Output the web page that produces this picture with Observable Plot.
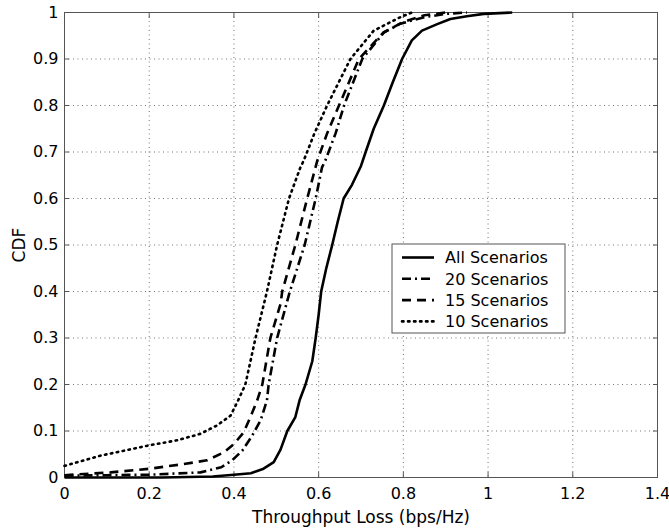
<!DOCTYPE html>
<html>
<head>
<meta charset="utf-8">
<script src="https://cdn.jsdelivr.net/npm/d3@7"></script>
<script src="https://cdn.jsdelivr.net/npm/@observablehq/plot@0.6"></script>
<style>
  html, body { margin: 0; padding: 0; background: #fff; }
  #chart svg { display: block; }
  #chart svg text { font-family: 'DejaVu Sans', sans-serif; }
  #chart g[aria-label="x-axis tick label"] text,
  #chart g[aria-label="y-axis tick label"] text { font-size: 16px; }
  #chart g[aria-label="x-axis label"] text,
  #chart g[aria-label="y-axis label"] text { font-size: 17px; }
</style>
</head>
<body>
<div id="chart"></div>
<script>
// ---- data ----
const seriesNames = ["All Scenarios", "20 Scenarios", "15 Scenarios", "10 Scenarios"];
const xTicks = [0, 0.2, 0.4, 0.6, 0.8, 1, 1.2, 1.4];
const yTicks = [0, 0.1, 0.2, 0.3, 0.4, 0.5, 0.6, 0.7, 0.8, 0.9, 1];

const allLoss = [0, 0.23, 0.35, 0.40, 0.44, 0.47, 0.494, 0.51, 0.526, 0.545, 0.555, 0.569, 0.585, 0.593, 0.600, 0.606, 0.618, 0.632, 0.645, 0.659, 0.679, 0.70, 0.711, 0.73, 0.754, 0.775, 0.797, 0.82, 0.844, 0.88, 0.911, 0.95, 0.99, 1.057];
const allCdf  = [0, 0, 0.002, 0.006, 0.009, 0.019, 0.033, 0.06, 0.10, 0.13, 0.166, 0.20, 0.25, 0.30, 0.35, 0.40, 0.45, 0.50, 0.55, 0.60, 0.63, 0.67, 0.70, 0.75, 0.80, 0.85, 0.90, 0.94, 0.961, 0.975, 0.986, 0.992, 0.997, 1];

const s20Loss = [0, 0.1, 0.2, 0.321, 0.37, 0.396, 0.42, 0.443, 0.463, 0.478, 0.482, 0.502, 0.532, 0.567, 0.593, 0.608, 0.616, 0.64, 0.66, 0.703, 0.754, 0.793, 0.85, 0.9, 0.95];
const s20Cdf  = [0.004, 0.005, 0.006, 0.011, 0.022, 0.037, 0.058, 0.09, 0.123, 0.166, 0.20, 0.30, 0.40, 0.50, 0.60, 0.667, 0.682, 0.74, 0.80, 0.90, 0.957, 0.976, 0.99, 0.997, 1];

const s15Loss = [0, 0.109, 0.203, 0.282, 0.337, 0.376, 0.40, 0.423, 0.439, 0.455, 0.467, 0.486, 0.51, 0.514, 0.545, 0.573, 0.597, 0.62, 0.648, 0.695, 0.753, 0.80, 0.85, 0.9];
const s15Cdf  = [0.005, 0.011, 0.019, 0.029, 0.037, 0.054, 0.072, 0.097, 0.13, 0.166, 0.20, 0.30, 0.373, 0.40, 0.50, 0.60, 0.682, 0.74, 0.80, 0.90, 0.957, 0.98, 0.994, 1];

const s10Loss = [0, 0.085, 0.199, 0.266, 0.321, 0.36, 0.392, 0.41, 0.427, 0.451, 0.478, 0.502, 0.53, 0.557, 0.565, 0.59, 0.62, 0.675, 0.73, 0.793, 0.82];
const s10Cdf  = [0.025, 0.047, 0.069, 0.08, 0.094, 0.112, 0.133, 0.166, 0.20, 0.30, 0.40, 0.50, 0.60, 0.667, 0.682, 0.74, 0.80, 0.90, 0.961, 0.99, 1];

const rows = (name, xs, ys) => xs.map((x, i) => ({series: name, loss: x, cdf: ys[i]}));
const data = [
  ...rows(seriesNames[0], allLoss, allCdf),
  ...rows(seriesNames[1], s20Loss, s20Cdf),
  ...rows(seriesNames[2], s15Loss, s15Cdf),
  ...rows(seriesNames[3], s10Loss, s10Cdf)
];

// ---- styles ----
const dashes = {
  "All Scenarios": null,
  "20 Scenarios": "9,4,2,4",
  "15 Scenarios": "9,6",
  "10 Scenarios": "1.5,4.5"
};
const fmt = d => String(+d.toFixed(1));
const FONT = "'DejaVu Sans', sans-serif";

const lineMarks = seriesNames.map(name => Plot.line(data.filter(d => d.series === name), {
  x: "loss", y: "cdf",
  stroke: "#000", strokeWidth: 2.6,
  strokeDasharray: dashes[name],
  strokeLinecap: name === "10 Scenarios" ? "round" : "butt",
  strokeLinejoin: "round"
}));

const plot = Plot.plot({
  width: 669,
  height: 529,
  marginLeft: 64,
  marginRight: 12,
  marginTop: 12,
  marginBottom: 52,
  style: {fontFamily: FONT, fontSize: "16px", background: "#fff", color: "#000"},
  x: {domain: [0, 1.4], ticks: xTicks, tickFormat: fmt},
  y: {domain: [0, 1], ticks: yTicks, tickFormat: fmt},
  marks: [
    Plot.gridX(xTicks, {stroke: "#000", strokeOpacity: 0.55, strokeDasharray: "1,3.5", strokeWidth: 1}),
    Plot.gridY(yTicks, {stroke: "#000", strokeOpacity: 0.55, strokeDasharray: "1,3.5", strokeWidth: 1}),
    Plot.frame({stroke: "#555", strokeWidth: 1}),
    Plot.axisX(xTicks, {anchor: "bottom", tickSize: -5, tickPadding: 15, tickFormat: fmt, stroke: "#555",
      label: "Throughput Loss (bps/Hz)", labelAnchor: "center", labelOffset: 45, labelArrow: "none"}),
    Plot.axisX(xTicks, {anchor: "top", tickSize: -5, tickFormat: () => "", stroke: "#555", label: null}),
    Plot.axisY(yTicks, {anchor: "left", tickSize: -5, tickPadding: 11, tickFormat: fmt, stroke: "#555",
      label: "CDF", labelAnchor: "center", labelOffset: 52, labelArrow: "none"}),
    Plot.axisY(yTicks, {anchor: "right", tickSize: -5, tickFormat: () => "", stroke: "#555", label: null}),
    ...lineMarks
  ]
});

document.getElementById("chart").appendChild(plot);

// ---- legend (inside the plot area, like the original) ----
const svg = d3.select(plot);
const lg = svg.append("g").attr("font-family", FONT).attr("font-size", 16).attr("text-anchor", "start");
const bx = 392, by = 244, bw = 173, bh = 89;
lg.append("rect").attr("x", bx).attr("y", by).attr("width", bw).attr("height", bh)
  .attr("fill", "#fff").attr("stroke", "#555").attr("stroke-width", 1);
seriesNames.forEach((name, i) => {
  const cy = by + 13.5 + i * 21.3;
  lg.append("line").attr("x1", bx + 10).attr("x2", bx + 42).attr("y1", cy).attr("y2", cy)
    .attr("stroke", "#000").attr("stroke-width", 2.6)
    .attr("stroke-dasharray", dashes[name])
    .attr("stroke-linecap", name === "10 Scenarios" ? "round" : "butt");
  lg.append("text").attr("x", bx + 53).attr("y", cy).attr("dy", "0.36em")
    .attr("fill", "#000").attr("text-anchor", "start").text(name);
});
</script>
</body>
</html>
